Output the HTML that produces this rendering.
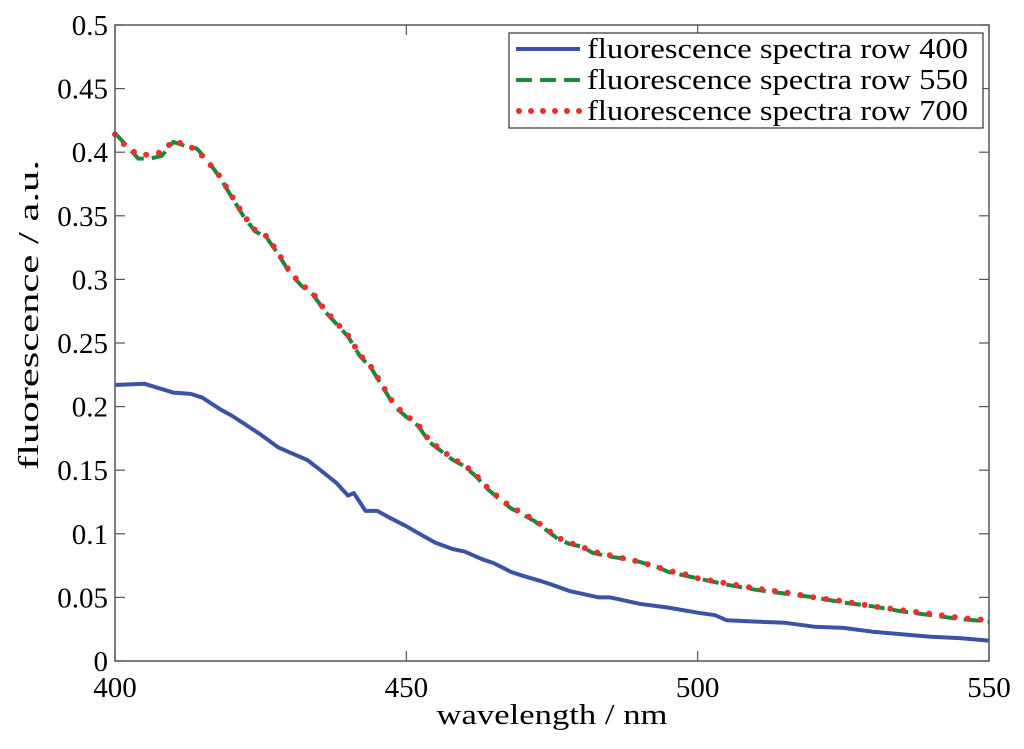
<!DOCTYPE html>
<html><head><meta charset="utf-8">
<style>body{margin:0;background:#fff;}svg text{font-family:"Liberation Serif",serif;fill:#000;}</style>
</head><body>
<svg id="chart" width="1024" height="744" xmlns="http://www.w3.org/2000/svg">
<rect x="0" y="0" width="1024" height="744" fill="#fff"/>
<g id="series"></g>
<rect x="115" y="25" width="874" height="636" fill="none" stroke="#555" stroke-width="1.5"/>
<g id="axes"></g>
<text x="552" y="724" font-size="29" text-anchor="middle" textLength="231" lengthAdjust="spacingAndGlyphs">wavelength / nm</text>
<text transform="translate(38,315) rotate(-90)" font-size="29" text-anchor="middle" textLength="310" lengthAdjust="spacingAndGlyphs">fluorescence / a.u.</text>
<g>
<rect x="509" y="33" width="474" height="95" fill="#fff" stroke="#333" stroke-width="1.2"/>
<line x1="516" y1="49" x2="580" y2="49" stroke="#3a53a4" stroke-width="4"/>
<text x="587" y="58" font-size="29" textLength="381" lengthAdjust="spacingAndGlyphs">fluorescence spectra row 400</text>
<line x1="516" y1="80" x2="580" y2="80" stroke="#1a8a3a" stroke-width="4" stroke-dasharray="16,8"/>
<text x="587" y="89" font-size="29" textLength="381" lengthAdjust="spacingAndGlyphs">fluorescence spectra row 550</text>
<line x1="519" y1="111" x2="580" y2="111" stroke="#e8302c" stroke-width="6" stroke-linecap="round" stroke-dasharray="0,12"/>
<text x="587" y="120" font-size="29" textLength="381" lengthAdjust="spacingAndGlyphs">fluorescence spectra row 700</text>
</g>
</svg>
<script>
const xTicks=[400,450,500,550];
const yTicks=[0,0.05,0.1,0.15,0.2,0.25,0.3,0.35,0.4,0.45,0.5];
const yTickLabels=["0","0.05","0.1","0.15","0.2","0.25","0.3","0.35","0.4","0.45","0.5"];
const wlBlue=[400,405,410,413,415,418,420,422,425,428,430,433,435,438,440,441,443,445,447,450,453,455,458,460,463,465,468,470,473,475,478,480,483,485,488,490,495,500,503,505,510,515,520,525,530,535,540,545,550];
const row400=[0.217,0.218,0.211,0.210,0.207,0.198,0.193,0.187,0.178,0.168,0.164,0.158,0.151,0.140,0.130,0.132,0.118,0.118,0.113,0.106,0.098,0.093,0.088,0.086,0.080,0.077,0.070,0.067,0.063,0.060,0.055,0.053,0.050,0.050,0.047,0.045,0.042,0.038,0.036,0.032,0.031,0.030,0.027,0.026,0.023,0.021,0.019,0.018,0.016];
const wlHigh=[400,402,404,406,408,410,412,414,416,418,420,422,424,426,428,430,432,434,436,438,440,442,444,446,448,450,452,454,456,458,460,462,464,466,468,470,472,474,476,478,480,482,485,488,490,493,495,498,500,505,510,515,520,525,530,535,540,545,550];
const row550=[0.415,0.405,0.395,0.395,0.397,0.408,0.405,0.403,0.393,0.380,0.365,0.350,0.338,0.333,0.320,0.305,0.295,0.288,0.275,0.265,0.255,0.240,0.230,0.215,0.200,0.192,0.185,0.172,0.165,0.158,0.153,0.145,0.135,0.127,0.120,0.115,0.110,0.103,0.096,0.092,0.090,0.085,0.082,0.080,0.078,0.074,0.070,0.067,0.065,0.060,0.056,0.053,0.050,0.046,0.043,0.039,0.036,0.033,0.031];
const row700=[0.414,0.404,0.398,0.398,0.400,0.409,0.406,0.402,0.392,0.381,0.366,0.351,0.339,0.334,0.321,0.306,0.296,0.289,0.276,0.266,0.256,0.241,0.231,0.216,0.201,0.193,0.186,0.173,0.166,0.159,0.154,0.146,0.136,0.128,0.121,0.116,0.111,0.104,0.097,0.093,0.090,0.086,0.083,0.080,0.078,0.074,0.071,0.068,0.065,0.061,0.057,0.054,0.050,0.047,0.043,0.040,0.037,0.034,0.032];
const X=v=>115+(v-400)*874/150;
const Y=v=>661-v*1272;
const NS="http://www.w3.org/2000/svg";
const axes=document.getElementById('axes'), ser=document.getElementById('series');
function mk(tag,attrs,parent){const e=document.createElementNS(NS,tag);for(const k in attrs)e.setAttribute(k,attrs[k]);parent.appendChild(e);return e;}
xTicks.forEach(t=>{
  mk('line',{x1:X(t),y1:661,x2:X(t),y2:651,stroke:'#555','stroke-width':1.2},axes);
  mk('line',{x1:X(t),y1:25,x2:X(t),y2:35,stroke:'#555','stroke-width':1.2},axes);
  const tx=mk('text',{x:X(t),y:697,'font-size':29,'text-anchor':'middle'},axes);
  
  
  tx.textContent=t;
});
yTicks.forEach((t,i)=>{
  mk('line',{x1:115,y1:Y(t),x2:125,y2:Y(t),stroke:'#555','stroke-width':1.2},axes);
  mk('line',{x1:989,y1:Y(t),x2:979,y2:Y(t),stroke:'#555','stroke-width':1.2},axes);
  const tx=mk('text',{x:108,y:Y(t)+10,'font-size':29,'text-anchor':'end'},axes);
  
  
  tx.textContent=yTickLabels[i];
});
function pts(xs,ys){return xs.map((x,i)=>X(x).toFixed(1)+','+Y(ys[i]).toFixed(1)).join(' ');}
const l1=mk('polyline',{points:pts(wlBlue,row400),fill:'none',stroke:'#3a53a4','stroke-width':4,'stroke-linejoin':'round'},ser);


const l2=mk('polyline',{points:pts(wlHigh,row550),fill:'none',stroke:'#1a8a3a','stroke-width':4,'stroke-dasharray':'16,8'},ser);


const l3=mk('polyline',{points:pts(wlHigh,row700),fill:'none',stroke:'#e8302c','stroke-width':6,'stroke-linecap':'round','stroke-dasharray':'0,13'},ser);


</script>
</body></html>
